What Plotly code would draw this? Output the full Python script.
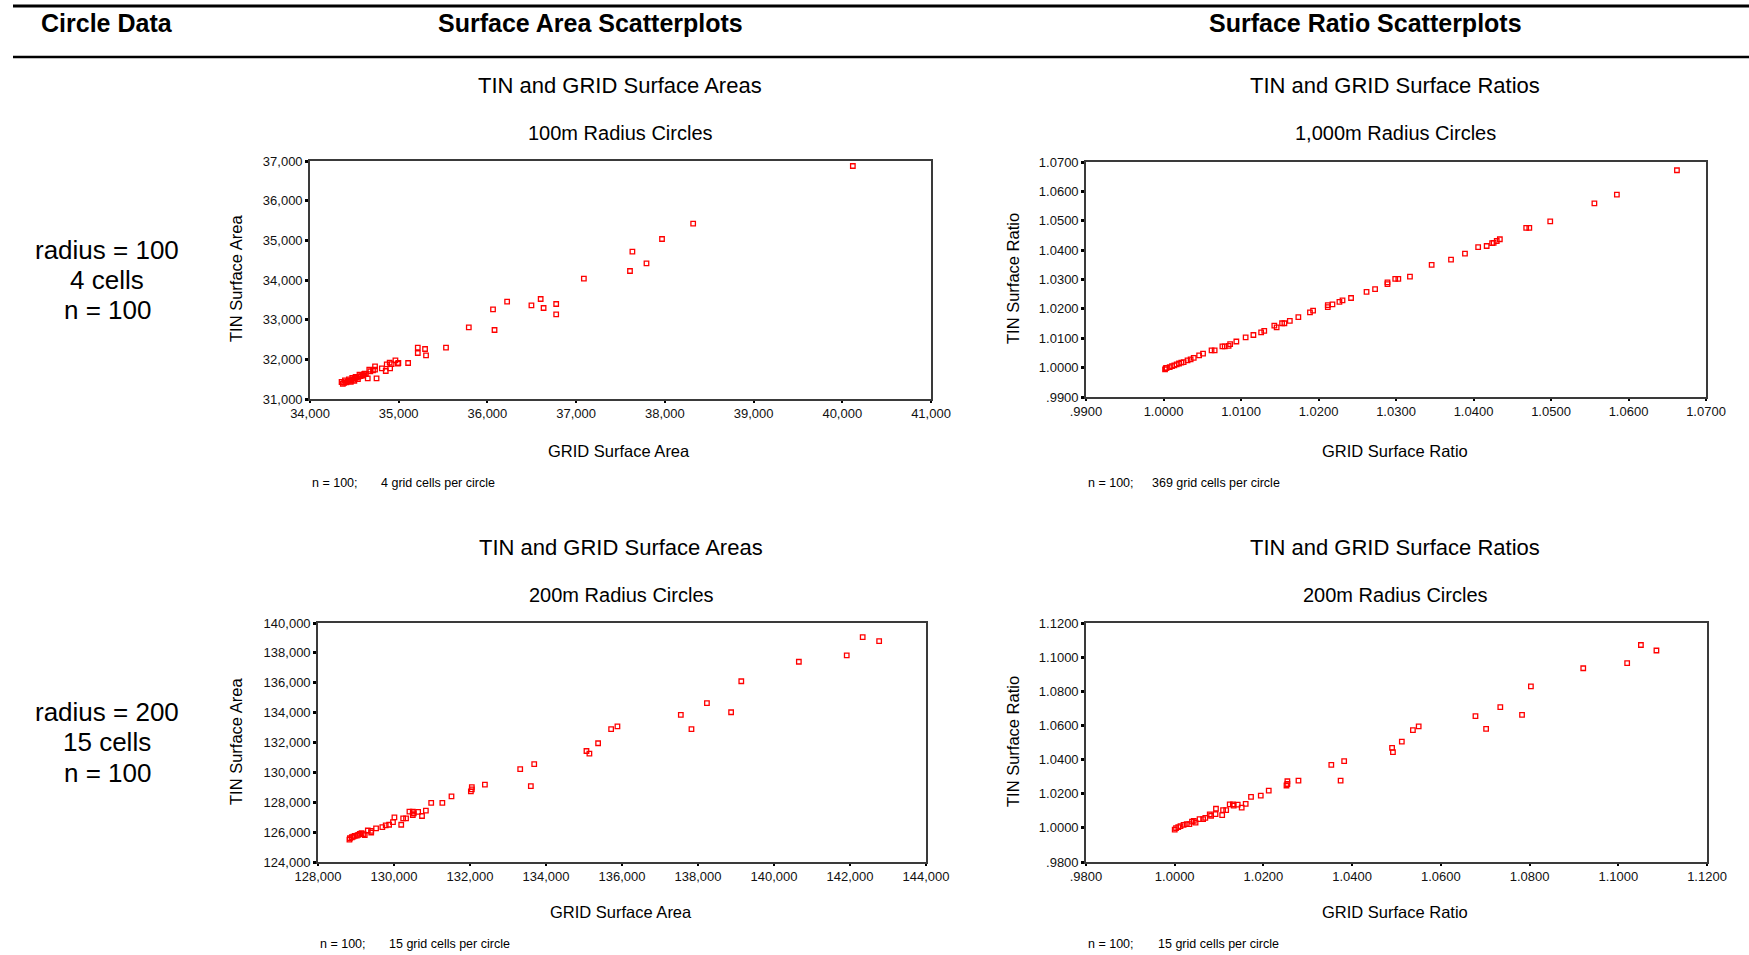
import plotly.graph_objects as go

W, H = 1749, 955

# ---------------- DATA ----------------
# Top-left: 100m radius, surface areas
tl_grid = [40119, 38319, 37968, 37634, 37793, 37607, 37087, 36222, 36063, 36080,
           36496, 36600, 36633, 36775, 36775, 35790, 35533, 35215, 35215, 35297,
           35308, 35106, 34963, 34996, 34898, 34903, 34854, 34865, 34810, 34733,
           34733, 34668, 34651, 34750, 34618, 34558, 34514, 34476, 34438, 34394,
           34356, 34370, 34385, 34410, 34425, 34445, 34465, 34490, 34505, 34525,
           34545, 34570, 34590, 34610, 34630, 34680, 34710, 34920, 34990, 34500,
           34540, 34460, 34600]
tl_tin = [36874, 35420, 35034, 34714, 34420, 34227, 34034, 33454, 33261, 32739,
          33361, 33521, 33294, 33395, 33134, 32807, 32294, 32294, 32160, 32261,
          32101, 31908, 31975, 31908, 31916, 31773, 31706, 31874, 31773, 31824,
          31740, 31740, 31521, 31521, 31639, 31613, 31555, 31529, 31496, 31471,
          31429, 31380, 31405, 31420, 31445, 31455, 31470, 31490, 31520, 31540,
          31560, 31575, 31600, 31625, 31630, 31700, 31720, 31880, 31890, 31460,
          31500, 31430, 31590]

# Top-right: 1,000m radius, surface ratios
tr_grid = [1.06625, 1.0585, 1.0556, 1.0499, 1.0472, 1.0468, 1.0434, 1.0430, 1.0426, 1.0424,
           1.0417, 1.0406, 1.0389, 1.0371, 1.0346, 1.0318, 1.0303, 1.0299, 1.0289, 1.0289,
           1.0273, 1.0262, 1.0242, 1.0231, 1.0227, 1.0218, 1.0212, 1.0212, 1.0193, 1.0189,
           1.0174, 1.0163, 1.0156, 1.0153, 1.0146, 1.0143, 1.0130, 1.0126, 1.0116, 1.0106,
           1.0094, 1.0086, 1.0084, 1.0079, 1.0076, 1.0066, 1.0062, 1.0051, 1.0046, 1.0039,
           1.0035, 1.0031, 1.0026, 1.0023, 1.0020, 1.0017, 1.0014, 1.0011, 1.0008, 1.0004,
           1.0002, 1.0003]
tr_tin = [1.0672, 1.0589, 1.0559, 1.0498, 1.0476, 1.0476, 1.0437, 1.0431, 1.0425, 1.0424,
          1.0414, 1.0410, 1.0388, 1.0368, 1.0350, 1.0310, 1.0302, 1.0302, 1.0290, 1.0284,
          1.0267, 1.0258, 1.0237, 1.0229, 1.0224, 1.0215, 1.0213, 1.0206, 1.0194, 1.0188,
          1.0172, 1.0159, 1.0151, 1.0151, 1.0137, 1.0143, 1.0125, 1.0120, 1.0111, 1.0103,
          1.0089, 1.0080, 1.0074, 1.0072, 1.0072, 1.0059, 1.0059, 1.0048, 1.0042, 1.0033,
          1.0028, 1.0025, 1.0019, 1.0017, 1.0014, 1.0011, 1.0008, 1.0005, 1.0002, 0.9999,
          0.9994, 0.9998]

# Bottom-left: 200m radius, surface areas
bl_grid = [142334, 142767, 141914, 140654, 139139, 138235, 138871, 137548, 137828, 135880,
           135714, 135371, 135065, 135142, 133690, 133321, 133601, 132392, 132048, 132048,
           132023, 131513, 131272, 130979, 130839, 130737, 130635, 130520, 130495, 130406,
           130495, 130317, 130241, 130011, 129973, 130190, 129871, 129782, 129693, 129528,
           129400, 129311, 129400, 129197, 129146, 129057, 128967, 128891, 128840, 128827,
           129230, 129100, 128930, 129020]
bl_tin = [139053, 138782, 137835, 137407, 136099, 134633, 134024, 133844, 132897, 133077,
          132897, 131950, 131431, 131251, 130552, 130213, 129086, 129176, 129018, 128860,
          128725, 128387, 127959, 127959, 127440, 127079, 127350, 127260, 127147, 127372,
          127372, 126921, 126921, 126988, 126673, 126493, 126493, 126447, 126335, 126245,
          126087, 126109, 125974, 125861, 125929, 125816, 125748, 125658, 125591, 125500,
          125800, 125880, 125700, 125770]

# Bottom-right: 200m radius, surface ratios
br_grid = [1.1051, 1.1086, 1.1020, 1.0921, 1.0803, 1.0734, 1.0678, 1.0783, 1.0702, 1.0550,
           1.0537, 1.0512, 1.0490, 1.0492, 1.0382, 1.0353, 1.0374, 1.0279, 1.0254, 1.0254,
           1.0252, 1.0212, 1.0194, 1.0172, 1.0160, 1.0151, 1.0142, 1.0133, 1.0131, 1.0124,
           1.0116, 1.0109, 1.0107, 1.0093, 1.0092, 1.0082, 1.0079, 1.0069, 1.0064, 1.0056,
           1.0047, 1.0043, 1.0039, 1.0033, 1.0027, 1.0020, 1.0013, 1.0008, 1.0003, 1.0000]
br_tin = [1.1071, 1.1039, 1.0965, 1.0935, 1.0829, 1.0707, 1.0654, 1.0662, 1.0580, 1.0595,
          1.0572, 1.0505, 1.0468, 1.0444, 1.0391, 1.0369, 1.0277, 1.0277, 1.0273, 1.0257,
          1.0248, 1.0218, 1.0189, 1.0181, 1.0141, 1.0118, 1.0136, 1.0130, 1.0138, 1.0138,
          1.0104, 1.0104, 1.0075, 1.0112, 1.0081, 1.0071, 1.0079, 1.0059, 1.0051, 1.0051,
          1.0031, 1.0041, 1.0037, 1.0022, 1.0022, 1.0018, 1.0010, 1.0004, 0.9998, 0.9990]

# Tick values / labels
tl_xticks = [34000, 35000, 36000, 37000, 38000, 39000, 40000, 41000]
tl_yticks = [31000, 32000, 33000, 34000, 35000, 36000, 37000]
tr_ticks = [0.99, 1.00, 1.01, 1.02, 1.03, 1.04, 1.05, 1.06, 1.07]
tr_ticklabels = [".9900", "1.0000", "1.0100", "1.0200", "1.0300", "1.0400", "1.0500", "1.0600", "1.0700"]
bl_xticks = [128000, 130000, 132000, 134000, 136000, 138000, 140000, 142000, 144000]
bl_yticks = [124000, 126000, 128000, 130000, 132000, 134000, 136000, 138000, 140000]
br_ticks = [0.98, 1.00, 1.02, 1.04, 1.06, 1.08, 1.10, 1.12]
br_ticklabels = [".9800", "1.0000", "1.0200", "1.0400", "1.0600", "1.0800", "1.1000", "1.1200"]

headers = ["Circle Data", "Surface Area Scatterplots", "Surface Ratio Scatterplots"]
row_labels = [["radius = 100", "4 cells", "n = 100"], ["radius = 200", "15 cells", "n = 100"]]
area_title = "TIN and GRID Surface Areas"
ratio_title = "TIN and GRID Surface Ratios"
subtitles = ["100m Radius Circles", "1,000m Radius Circles", "200m Radius Circles", "200m Radius Circles"]
notes = ["4 grid cells per circle", "369 grid cells per circle",
         "15 grid cells per circle", "15 grid cells per circle"]

# ---------------- LAYOUT HELPERS ----------------
FONT = "Liberation Sans, Arial, sans-serif"

def px_x(p):
    return p / W

def px_y(p):
    return 1 - p / H

# plot frames in pixels: (left, right, top, bottom)
frames = {
    "tl": (310, 931, 161, 399),
    "tr": (1086, 1706, 162, 397),
    "bl": (318, 926, 623, 862),
    "br": (1086, 1707, 623, 862),
}

fig = go.Figure()

marker = dict(symbol="square-open", size=4.5, color="#ff0000", line=dict(width=1.3, color="#ff0000"))

fig.add_trace(go.Scatter(x=tl_grid, y=tl_tin, mode="markers", marker=marker, xaxis="x", yaxis="y", showlegend=False))
fig.add_trace(go.Scatter(x=tr_grid, y=tr_tin, mode="markers", marker=marker, xaxis="x2", yaxis="y2", showlegend=False))
fig.add_trace(go.Scatter(x=bl_grid, y=bl_tin, mode="markers", marker=marker, xaxis="x3", yaxis="y3", showlegend=False))
fig.add_trace(go.Scatter(x=br_grid, y=br_tin, mode="markers", marker=marker, xaxis="x4", yaxis="y4", showlegend=False))

def axis_common():
    return dict(showgrid=False, zeroline=False, showline=True, linecolor="#3a3a3a", linewidth=1.6,
                mirror=True, ticks="outside", tickcolor="black", automargin=False,
                tickfont=dict(family=FONT, size=13, color="#111"))

def xaxis(key, rng, tv, tt):
    l, r, t, b = frames[key]
    d = axis_common()
    d.update(domain=[px_x(l), px_x(r)], range=rng, tickvals=tv, ticktext=tt, ticklen=2, tickwidth=2)
    return d

def yaxis(key, rng, tv, tt):
    l, r, t, b = frames[key]
    d = axis_common()
    d.update(domain=[px_y(b), px_y(t)], range=rng, tickvals=tv, ticktext=tt, ticklen=3, tickwidth=3)
    return d

fmt = lambda v: f"{v:,}"

fig.update_layout(
    width=W, height=H, autosize=False,
    margin=dict(l=0, r=0, t=0, b=0, pad=0, autoexpand=False),
    paper_bgcolor="white", plot_bgcolor="white",
    xaxis=xaxis("tl", [34000, 41000], tl_xticks, [fmt(v) for v in tl_xticks]),
    yaxis=yaxis("tl", [31000, 37000], tl_yticks, [fmt(v) for v in tl_yticks]) | dict(anchor="x"),
    xaxis2=xaxis("tr", [0.99, 1.07], tr_ticks, tr_ticklabels) | dict(anchor="y2"),
    yaxis2=yaxis("tr", [0.99, 1.07], tr_ticks, tr_ticklabels) | dict(anchor="x2"),
    xaxis3=xaxis("bl", [128000, 144000], bl_xticks, [fmt(v) for v in bl_xticks]) | dict(anchor="y3"),
    yaxis3=yaxis("bl", [124000, 140000], bl_yticks, [fmt(v) for v in bl_yticks]) | dict(anchor="x3"),
    xaxis4=xaxis("br", [0.98, 1.12], br_ticks, br_ticklabels) | dict(anchor="y4"),
    yaxis4=yaxis("br", [0.98, 1.12], br_ticks, br_ticklabels) | dict(anchor="x4"),
)

ann = []

def text(x, y, s, size, bold=False, angle=0, xanchor="center"):
    ann.append(dict(x=px_x(x), y=px_y(y), xref="paper", yref="paper", text=(f"<b>{s}</b>" if bold else s),
                    showarrow=False, xanchor=xanchor, yanchor="middle", textangle=angle,
                    font=dict(family=FONT, size=size, color="black")))

# Header row
text(107, 23, headers[0], 25, bold=True)
text(590, 23, headers[1], 25, bold=True)
text(1365, 23, headers[2], 25, bold=True)

# Row labels
for i, yy in enumerate([250, 280, 310]):
    text(107, yy, row_labels[0][i], 26)
for i, yy in enumerate([712, 742, 773]):
    text(107, yy, row_labels[1][i], 26)

# Plot titles and subtitles
text(620, 85, area_title, 22)
text(1395, 85, ratio_title, 22)
text(620, 133, subtitles[0], 20)
text(1395, 133, subtitles[1], 20)
text(621, 547, area_title, 22)
text(1395, 547, ratio_title, 22)
text(621, 595, subtitles[2], 20)
text(1395, 595, subtitles[3], 20)

# Axis titles
text(619, 451, "GRID Surface Area", 16.5)
text(1395, 451, "GRID Surface Ratio", 16.5)
text(621, 912, "GRID Surface Area", 16.5)
text(1395, 912, "GRID Surface Ratio", 16.5)
text(236, 279, "TIN Surface Area", 16.5, angle=-90)
text(1013, 279, "TIN Surface Ratio", 16.5, angle=-90)
text(236, 742, "TIN Surface Area", 16.5, angle=-90)
text(1013, 742, "TIN Surface Ratio", 16.5, angle=-90)

# Notes
text(310, 483, "n = 100;", 12.5, xanchor="left")
text(379, 483, notes[0], 12.5, xanchor="left")
text(1086, 483, "n = 100;", 12.5, xanchor="left")
text(1150, 483, notes[1], 12.5, xanchor="left")
text(318, 944, "n = 100;", 12.5, xanchor="left")
text(387, 944, notes[2], 12.5, xanchor="left")
text(1086, 944, "n = 100;", 12.5, xanchor="left")
text(1156, 944, notes[3], 12.5, xanchor="left")

fig.update_layout(annotations=ann)

# Horizontal rules of the table header
fig.add_shape(type="line", xref="paper", yref="paper", x0=px_x(13), x1=1, y0=px_y(6), y1=px_y(6),
              line=dict(color="black", width=3))
fig.add_shape(type="line", xref="paper", yref="paper", x0=px_x(13), x1=1, y0=px_y(57), y1=px_y(57),
              line=dict(color="black", width=2.5))

fig.write_html(
    "out.html",
    config={"displayModeBar": False},
    post_script="document.body.style.margin='0px'; document.body.style.overflow='hidden';",
)
